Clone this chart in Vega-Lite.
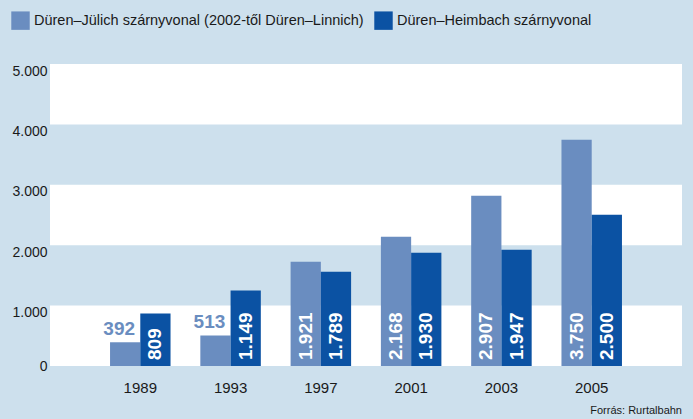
{
  "$schema": "https://vega.github.io/schema/vega-lite/v6.json",
  "width": 632,
  "height": 302,
  "autosize": {"type": "none"},
  "padding": {"left": 50, "top": 64, "right": 11, "bottom": 53},
  "background": "#cde0ed",
  "view": {"fill": "#ffffff", "stroke": null},
  "title": {
    "text": "Forrás: Rurtalbahn",
    "orient": "bottom",
    "anchor": "end",
    "font": "'Liberation Sans', Arial, sans-serif",
    "fontSize": 11,
    "fontWeight": "normal",
    "color": "#1a1a1a",
    "offset": 10
  },
  "data": {
    "values": [
      {"year": "1989", "series": "Düren–Jülich szárnyvonal (2002-től Düren–Linnich)", "value": 393, "label": "392"},
      {"year": "1989", "series": "Düren–Heimbach szárnyvonal", "value": 868, "label": "809"},
      {"year": "1993", "series": "Düren–Jülich szárnyvonal (2002-től Düren–Linnich)", "value": 505, "label": "513"},
      {"year": "1993", "series": "Düren–Heimbach szárnyvonal", "value": 1248, "label": "1.149"},
      {"year": "1997", "series": "Düren–Jülich szárnyvonal (2002-től Düren–Linnich)", "value": 1727, "label": "1.921"},
      {"year": "1997", "series": "Düren–Heimbach szárnyvonal", "value": 1562, "label": "1.789"},
      {"year": "2001", "series": "Düren–Jülich szárnyvonal (2002-től Düren–Linnich)", "value": 2140, "label": "2.168"},
      {"year": "2001", "series": "Düren–Heimbach szárnyvonal", "value": 1876, "label": "1.930"},
      {"year": "2003", "series": "Düren–Jülich szárnyvonal (2002-től Düren–Linnich)", "value": 2818, "label": "2.907"},
      {"year": "2003", "series": "Düren–Heimbach szárnyvonal", "value": 1926, "label": "1.947"},
      {"year": "2005", "series": "Düren–Jülich szárnyvonal (2002-től Düren–Linnich)", "value": 3744, "label": "3.750"},
      {"year": "2005", "series": "Düren–Heimbach szárnyvonal", "value": 2504, "label": "2.500"}
    ]
  },
  "layer": [
    {
      "data": {"values": [{"lo": 1000, "hi": 2000}, {"lo": 3000, "hi": 4000}]},
      "mark": {"type": "rect", "color": "#cde0ed"},
      "encoding": {
        "x": {"value": 0},
        "x2": {"value": "width"},
        "y": {
          "field": "lo", "type": "quantitative", "scale": {"domain": [0, 5000], "nice": false},
          "axis": {
            "title": null, "ticks": false, "domain": false, "grid": false,
            "values": [0, 1000, 2000, 3000, 4000, 5000],
            "labelExpr": "replace(format(datum.value, ','), ',', '.')",
            "labelFont": "'Liberation Sans', Arial, sans-serif", "labelFontSize": 14, "labelColor": "#1a1a1a",
            "labelPadding": 3,
            "labelBaseline": {"condition": {"test": "datum.value == 0", "value": "middle"}, "value": "top"}
          }
        },
        "y2": {"field": "hi"}
      }
    },
    {
      "mark": {"type": "bar"},
      "encoding": {
        "x": {
          "field": "year", "type": "ordinal",
          "scale": {"paddingInner": 0.33, "paddingOuter": 0.665},
          "axis": {
            "title": null, "ticks": false, "domain": false, "grid": false, "labelAngle": 0,
            "labelFont": "'Liberation Sans', Arial, sans-serif", "labelFontSize": 15, "labelColor": "#1a1a1a",
            "labelPadding": 14
          }
        },
        "xOffset": {
          "field": "series", "type": "nominal",
          "scale": {"domain": ["Düren–Jülich szárnyvonal (2002-től Düren–Linnich)", "Düren–Heimbach szárnyvonal"], "paddingInner": 0, "paddingOuter": 0}
        },
        "y": {
          "field": "value", "type": "quantitative",
          "scale": {"domain": [0, 5000], "nice": false}
        },
        "color": {
          "field": "series", "type": "nominal",
          "scale": {"domain": ["Düren–Jülich szárnyvonal (2002-től Düren–Linnich)", "Düren–Heimbach szárnyvonal"], "range": ["#6a8dc0", "#0b52a3"]},
          "legend": {
            "title": null, "orient": "none", "direction": "horizontal",
            "legendX": -39, "legendY": -53,
            "symbolType": "square", "symbolSize": 340, "symbolStrokeWidth": 0,
            "labelFont": "'Liberation Sans', Arial, sans-serif", "labelFontSize": 14.5, "labelColor": "#1a1a1a",
            "labelOffset": 4, "columnPadding": 10, "labelLimit": 500
          }
        }
      }
    },
    {
      "transform": [{"filter": "datum.value >= 600"}],
      "mark": {
        "type": "text", "angle": 270, "align": "left", "baseline": "middle", "dx": 6,
        "color": "#ffffff", "font": "'Liberation Sans', Arial, sans-serif", "fontWeight": "bold", "fontSize": 19
      },
      "encoding": {
        "x": {"field": "year", "type": "ordinal"},
        "xOffset": {"field": "series", "type": "nominal"},
        "y": {"datum": 0},
        "text": {"field": "label"}
      }
    },
    {
      "transform": [{"filter": "datum.value < 600"}],
      "mark": {
        "type": "text", "align": "center", "baseline": "alphabetic", "dx": -6, "dy": -7,
        "color": "#6a8dc0", "font": "'Liberation Sans', Arial, sans-serif", "fontWeight": "bold", "fontSize": 19
      },
      "encoding": {
        "x": {"field": "year", "type": "ordinal"},
        "xOffset": {"field": "series", "type": "nominal"},
        "y": {"field": "value", "type": "quantitative"},
        "text": {"field": "label"}
      }
    }
  ]
}
